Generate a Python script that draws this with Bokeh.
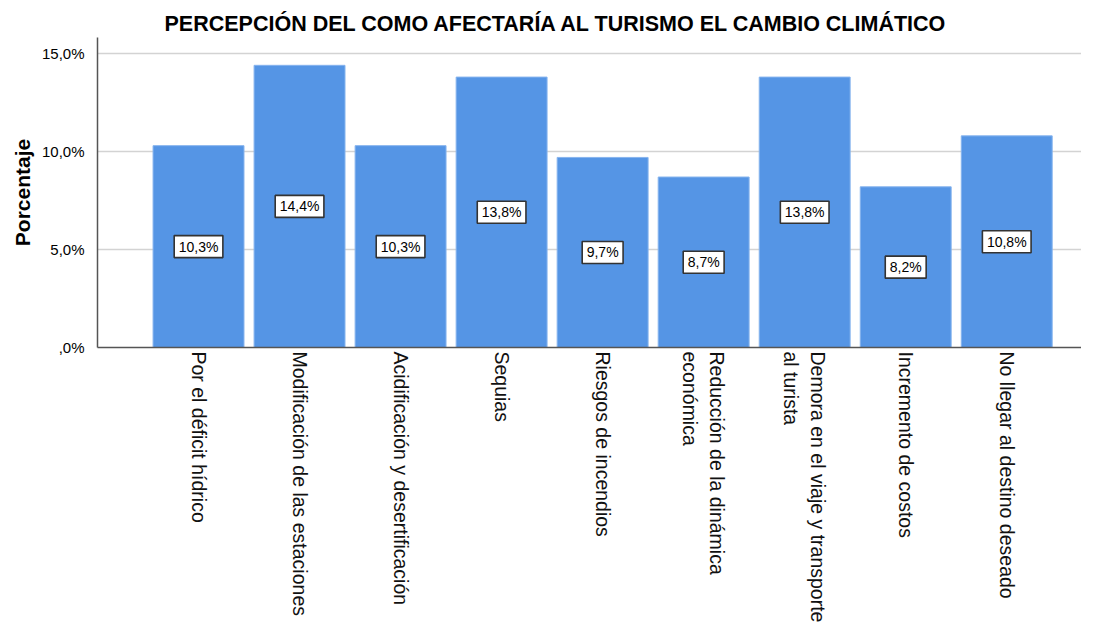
import math
from bokeh.plotting import figure
from bokeh.models import ColumnDataSource, Range1d, FixedTicker
from bokeh.core.properties import value
from bokeh.embed import file_html
from bokeh.resources import INLINE

categories = [
    "Por el déficit hídrico",
    "Modificación de las estaciones",
    "Acidificación y desertificación",
    "Sequias",
    "Riesgos de incendios",
    "Reducción de la dinámica\neconómica",
    "Demora en el viaje y transporte\nal turista",
    "Incremento de costos",
    "No llegar al destino deseado",
]
values = [10.3, 14.4, 10.3, 13.8, 9.7, 8.7, 13.8, 8.2, 10.8]
value_labels = ["10,3%", "14,4%", "10,3%", "13,8%", "9,7%", "8,7%", "13,8%", "8,2%", "10,8%"]
y_ticks = [0, 5, 10, 15]
y_tick_labels = [",0%", "5,0%", "10,0%", "15,0%"]

FONT = "Liberation Sans"
LBL_PX = 14
# approximate Arial advance widths (em) used only to size the label boxes
_cw = {",": 0.278, "%": 0.889}
def _box_w(s):
    return sum(_cw.get(ch, 0.556) for ch in s) * LBL_PX + 9

xs = list(range(1, len(categories) + 1))
src = ColumnDataSource(dict(
    x=xs,
    top=values,
    mid=[v / 2 for v in values],
    lab=value_labels,
    bw=[_box_w(s) for s in value_labels],
))

p = figure(width=1081, height=625, output_backend="svg", toolbar_location=None,
           x_range=Range1d(0, 9.74), y_range=Range1d(0, 15.82),
           title="PERCEPCIÓN DEL COMO AFECTARÍA AL TURISMO EL CAMBIO CLIMÁTICO",
           min_border_left=97, min_border_right=0, min_border_top=37, min_border_bottom=278)

p.title.text_font = FONT
p.title.text_font_size = "21.5px"
p.title.text_font_style = "bold"
p.title.text_color = "black"
p.title.align = "left"
p.title.offset = 67
p.title.standoff = 4

p.outline_line_color = None
p.background_fill_color = "white"
p.border_fill_color = "white"

p.vbar(x="x", top="top", width=0.9, source=src, fill_color="#5595E5",
       line_color="#86b4ee", line_width=1)

# value label boxes
p.rect(x="x", y="mid", width="bw", height=22, width_units="screen", height_units="screen",
       source=src, fill_color="white", line_color="#333333", line_width=1.6)
p.text(x="x", y="mid", text="lab", source=src, text_align="center", text_baseline="middle",
       text_font=value(FONT), text_font_size=f"{LBL_PX}px", text_color="black")

# x axis
p.xaxis.ticker = FixedTicker(ticks=xs)
p.xaxis.major_label_overrides = {x: c for x, c in zip(xs, categories)}
p.xaxis.major_label_orientation = -math.pi / 2
p.xaxis.major_label_text_font = FONT
p.xaxis.major_label_text_font_size = "19.5px"
p.xaxis.major_label_text_color = "#111111"
p.xaxis.major_tick_line_color = None
p.xaxis.major_tick_out = 0
p.xaxis.major_tick_in = 0
p.xaxis.minor_tick_line_color = None
p.xaxis.minor_tick_out = 0
p.xaxis.axis_line_color = "#555555"
p.xaxis.axis_line_width = 1.5
p.xaxis.major_label_standoff = 4
p.xgrid.grid_line_color = None

# y axis
p.yaxis.ticker = FixedTicker(ticks=y_ticks)
p.yaxis.major_label_overrides = {t: l for t, l in zip(y_ticks, y_tick_labels)}
p.yaxis.major_label_text_font = FONT
p.yaxis.major_label_text_font_size = "15px"
p.yaxis.major_label_text_color = "black"
p.yaxis.major_tick_line_color = None
p.yaxis.minor_tick_line_color = None
p.yaxis.axis_line_color = "#555555"
p.yaxis.axis_line_width = 1.5
p.yaxis.major_label_standoff = 7
p.yaxis.axis_label = "Porcentaje"
p.yaxis.axis_label_text_font = FONT
p.yaxis.axis_label_text_font_size = "21px"
p.yaxis.axis_label_text_font_style = "bold"
p.yaxis.axis_label_text_color = "black"
p.yaxis.axis_label_standoff = 5
p.ygrid.grid_line_color = "#d3d3d3"
p.ygrid.grid_line_width = 1.5

open("out.html", "w").write(file_html(p, INLINE))
